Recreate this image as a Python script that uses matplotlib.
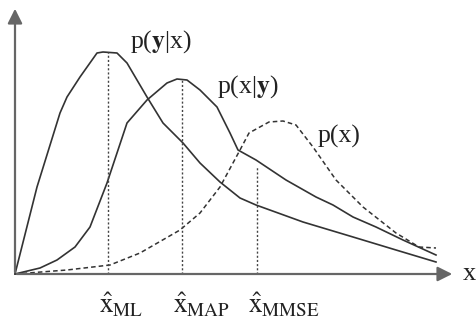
import matplotlib
matplotlib.use("Agg")
import matplotlib.pyplot as plt
import numpy as np

# curves (x along axis, y = height above axis)
lik_x = [0, 22, 45, 52, 65, 82, 88, 102, 112, 132, 148, 168, 185, 205, 225, 241, 288, 338, 381, 421]
lik_y = [0, 87, 161, 177, 197, 221, 222, 221, 211, 177, 151, 131, 111, 92, 76, 69, 52, 37, 24, 12]

post_x = [0, 25, 42, 60, 75, 92, 112, 132, 152, 162, 172, 185, 202, 215, 223, 241, 271, 301, 318, 338, 361, 388, 421]
post_y = [0, 6, 14, 27, 47, 91, 151, 174, 191, 195, 194, 184, 167, 141, 124, 114, 94, 77, 69, 57, 47, 34, 19]

prior_x = [0, 52, 95, 125, 165, 185, 205, 225, 234, 254, 268, 281, 298, 321, 348, 381, 404, 421]
prior_y = [0, 4, 9, 21, 44, 61, 87, 124, 141, 152, 153, 149, 127, 94, 67, 41, 27, 26]

# estimates: position and height where the dotted guide stops
est_x = [93, 167, 242]
est_top = [222, 195, 107]
est_labels = [r"$\hat{\mathrm{x}}_{\mathrm{ML}}$",
              r"$\hat{\mathrm{x}}_{\mathrm{MAP}}$",
              r"$\hat{\mathrm{x}}_{\mathrm{MMSE}}$"]

plt.rcParams["font.family"] = "Liberation Serif"
plt.rcParams["mathtext.fontset"] = "stix"

fig = plt.figure(figsize=(4.76, 3.22), dpi=100)
ax = fig.add_axes([0, 0, 1, 1])
ax.set_xlim(-15, 461)
ax.set_ylim(-48, 274)
ax.axis("off")

line_c = "#333333"
ax.plot(lik_x, lik_y, color=line_c, lw=1.2)
ax.plot(post_x, post_y, color=line_c, lw=1.2)
ax.plot(prior_x, prior_y, color=line_c, lw=1.1, dashes=(3, 2))

for xe, top, lab in zip(est_x, est_top, est_labels):
    ax.plot([xe, xe], [0, top], color="#444444", lw=1.0, dashes=(1.5, 1.5))
    ax.text(xe - 9, -39, lab, fontsize=19.5, ha="left", va="baseline", color="#222222")

# axes with arrow heads
arrow = dict(arrowstyle="-|>", color="#666666", lw=1.6, mutation_scale=22)
ax.annotate("", xy=(0, 268), xytext=(0, -1), arrowprops=arrow)
ax.annotate("", xy=(440, 0), xytext=(-1, 0), arrowprops=arrow)

txt = dict(fontsize=18.5, ha="left", va="baseline", color="#222222")
ax.text(448, -6, "x", fontsize=19, ha="left", va="baseline", color="#222222")
ax.text(115, 226, r"p($\mathbf{y}$|x)", **txt)
ax.text(202, 181, r"p(x|$\mathbf{y}$)", **txt)
ax.text(303, 131, "p(x)", **txt)

fig.savefig("out.png", dpi=100)
